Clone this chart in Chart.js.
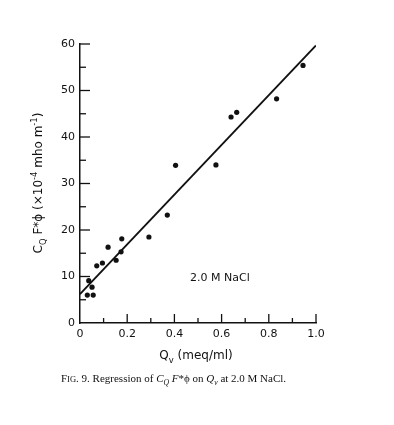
<!DOCTYPE html>
<html>
<head>
    <title>Regression of CQ F*phi on Qv</title>
    <script src="https://cdn.jsdelivr.net/npm/chart.js"></script>
    <style>
    body { margin: 0; background: #fff; }
    </style>
</head>
<body>
    <canvas id="chart" width="394" height="425"></canvas>
    <script>
    // measured points
    const qv = [0.031, 0.056, 0.037, 0.051, 0.071, 0.095, 0.119, 0.153, 0.174, 0.177, 0.292, 0.370, 0.405, 0.576, 0.640, 0.664, 0.833, 0.945];
    const cqf = [6.0, 6.0, 9.1, 7.7, 12.3, 12.9, 16.3, 13.5, 15.3, 18.1, 18.5, 23.2, 33.9, 34.0, 44.3, 45.3, 48.2, 55.4];

    // regression line end points
    const fitX = [0, 1.0];
    const fitY = [6.2, 59.7];

    const xTicks = [0, 0.2, 0.4, 0.6, 0.8, 1.0];
    const xTickLabels = ['0', '0.2', '0.4', '0.6', '0.8', '1.0'];
    const xMinor = [0.1, 0.3, 0.5, 0.7, 0.9];
    const yTicks = [0, 10, 20, 30, 40, 50, 60];
    const yTickLabels = ['0', '10', '20', '30', '40', '50', '60'];
    const yMinor = [5, 15, 25, 35, 45, 55];

    const ink = '#111';
    const sans = '"DejaVu Sans", Lato, sans-serif';
    const serif = '"Liberation Serif", "DejaVu Serif", serif';

    // draws a run of text pieces, some as sub/superscripts or italic
    function richWidth(ctx, parts, size, family) {
        let w = 0;
        parts.forEach(p => {
            const s = (p.sub || p.sup) ? size * 0.7 : size;
            ctx.font = (p.italic ? 'italic ' : '') + s + 'px ' + family;
            w += ctx.measureText(p.t).width;
        });
        return w;
    }
    function drawRich(ctx, parts, x, y, size, family) {
        ctx.textAlign = 'left';
        ctx.textBaseline = 'alphabetic';
        parts.forEach(p => {
            const s = (p.sub || p.sup) ? size * 0.7 : size;
            ctx.font = (p.italic ? 'italic ' : '') + s + 'px ' + family;
            let dy = 0;
            if (p.sub) dy = size * 0.3;
            if (p.sup) dy = -size * 0.45;
            ctx.fillText(p.t, x, y + dy);
            x += ctx.measureText(p.t).width;
        });
    }

    const yTitle = [
        { t: 'C' }, { t: 'Q', sub: true }, { t: ' F*' },
        { t: 'ϕ (×10' }, { t: '-4', sup: true }, { t: ' mho m' }, { t: '-1', sup: true }, { t: ')' }
    ];
    const xTitle = [{ t: 'Q' }, { t: 'v', sub: true }, { t: ' (meq/ml)' }];
    const caption = [
        { t: 'F' }, { t: 'IG', small: true }, { t: '. 9. Regression of ' },
        { t: 'C', italic: true }, { t: 'Q', sub: true, italic: true }, { t: ' F', italic: true }, { t: '*' },
        { t: 'ϕ on ' }, { t: 'Q', italic: true }, { t: 'v', sub: true, italic: true }, { t: ' at 2.0 M NaCl.' }
    ];

    const decorations = {
        id: 'decorations',
        afterDraw(chart) {
            const ctx = chart.ctx;
            const xs = chart.scales.x, ys = chart.scales.y;
            const area = chart.chartArea;
            ctx.save();
            ctx.strokeStyle = ink;
            ctx.fillStyle = ink;
            ctx.lineWidth = 1.3;

            // inward ticks
            const tick = (v, len, onX) => {
                ctx.beginPath();
                if (onX) {
                    const px = xs.getPixelForValue(v);
                    ctx.moveTo(px, area.bottom);
                    ctx.lineTo(px, area.bottom - len);
                } else {
                    const py = ys.getPixelForValue(v);
                    ctx.moveTo(area.left, py);
                    ctx.lineTo(area.left + len, py);
                }
                ctx.stroke();
            };
            xTicks.slice(1).forEach(v => tick(v, 9, true));
            xMinor.forEach(v => tick(v, 5, true));
            yTicks.slice(1).forEach(v => tick(v, 10, false));
            yMinor.forEach(v => tick(v, 6, false));

            // label inside plot
            ctx.font = '11px ' + sans;
            ctx.textAlign = 'center';
            ctx.textBaseline = 'middle';
            ctx.fillText('2.0 M NaCl', xs.getPixelForValue(0.593), ys.getPixelForValue(9.7));

            // x title
            let w = richWidth(ctx, xTitle, 12, sans);
            drawRich(ctx, xTitle, 196 - w / 2, 359, 12, sans);

            // y title, rotated
            ctx.save();
            ctx.translate(42, 183);
            ctx.rotate(-Math.PI / 2);
            w = richWidth(ctx, yTitle, 12, sans);
            drawRich(ctx, yTitle, -w / 2, 0, 12, sans);
            ctx.restore();

            // caption
            let cx = 61;
            caption.forEach(p => {
                const part = p.small ? [{ t: p.t }] : [p];
                const size = p.small ? 8.5 : 11;
                drawRich(ctx, part, cx, 382, size, serif);
                cx += richWidth(ctx, part, size, serif);
            });
            ctx.restore();
        }
    };

    new Chart(document.getElementById('chart').getContext('2d'), {
        type: 'scatter',
        data: {
            datasets: [
                {
                    label: 'measured',
                    data: qv.map((x, i) => ({ x: x, y: cqf[i] })),
                    backgroundColor: ink,
                    borderColor: ink,
                    pointRadius: 2.6,
                    pointBorderWidth: 0
                },
                {
                    type: 'line',
                    label: 'fit',
                    data: fitX.map((x, i) => ({ x: x, y: fitY[i] })),
                    borderColor: ink,
                    borderWidth: 1.8,
                    pointRadius: 0,
                    fill: false
                }
            ]
        },
        options: {
            responsive: false,
            animation: false,
            layout: { padding: { left: 30, right: 78, top: 44, bottom: 82 } },
            plugins: { legend: { display: false }, tooltip: { enabled: false } },
            scales: {
                x: {
                    type: 'linear',
                    min: 0,
                    max: 1,
                    afterBuildTicks: s => { s.ticks = xTicks.map(v => ({ value: v })); },
                    afterFit: s => { s.height = 20; },
                    grid: { display: false, drawTicks: false },
                    border: { display: true, color: ink, width: 1.5 },
                    ticks: {
                        padding: 5,
                        color: ink,
                        font: { family: sans, size: 11 },
                        callback: (v, i) => xTickLabels[i]
                    }
                },
                y: {
                    type: 'linear',
                    min: 0,
                    max: 60,
                    afterBuildTicks: s => { s.ticks = yTicks.map(v => ({ value: v })); },
                    afterFit: s => { s.width = 50; },
                    grid: { display: false, drawTicks: false },
                    border: { display: true, color: ink, width: 1.5 },
                    ticks: {
                        padding: 5,
                        color: ink,
                        font: { family: sans, size: 11 },
                        callback: (v, i) => yTickLabels[i]
                    }
                }
            }
        },
        plugins: [decorations]
    });
    </script>
</body>
</html>
